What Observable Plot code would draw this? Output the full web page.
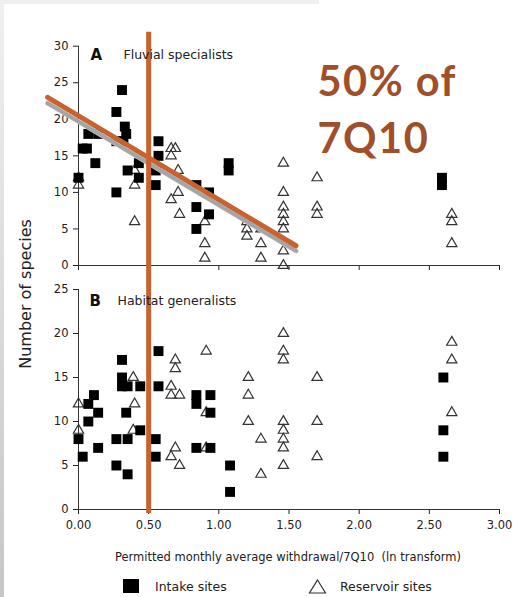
<!DOCTYPE html>
<html><head><meta charset="utf-8">
<script src="https://cdn.jsdelivr.net/npm/d3@7"></script>
<script src="https://cdn.jsdelivr.net/npm/@observablehq/plot@0.6"></script>
<style>
html,body{margin:0;padding:0;background:#fff;}
#wrap{position:relative;width:522px;height:597px;overflow:hidden;font-family:"DejaVu Sans",sans-serif;color:#222;}
#wrap svg{position:absolute;left:0;}
.topbar{position:absolute;left:0;top:0;width:319px;height:4px;background:#efefef;}
.leftbar{position:absolute;left:0;top:0;width:4px;height:597px;background:linear-gradient(#f0f0f0,#c6c6c6);}
.ylab{position:absolute;left:25px;top:294px;transform:translate(-50%,-50%) rotate(-90deg);font-size:16px;white-space:nowrap;}
.xlab{position:absolute;left:288px;top:557px;transform:translate(-50%,-50%);font-size:11.5px;white-space:pre;}
.leg{position:absolute;top:586px;transform:translateY(-50%);font-size:12.5px;white-space:nowrap;}
.annot text{letter-spacing:1.5px;}
</style></head><body><div id="wrap"></div>
<script>
// ---- data ----
const xTicks = [0, 0.5, 1, 1.5, 2, 2.5, 3];
const xTickLabels = ["0.00", "0.50", "1.00", "1.50", "2.00", "2.50", "3.00"];
const yTicksA = [0, 5, 10, 15, 20, 25, 30];
const yTicksB = [0, 5, 10, 15, 20, 25];

// Panel A – Fluvial specialists
const intakeAx = [0.00, 0.03, 0.06, 0.07, 0.14, 0.12, 0.27, 0.27, 0.31, 0.33, 0.34, 0.27, 0.32, 0.35, 0.43, 0.43, 0.55, 0.55, 0.57, 0.57, 0.84, 0.84, 0.84, 0.93, 0.93, 1.07, 1.07, 2.59, 2.59];
const intakeAy = [12, 16, 16, 18, 18, 14, 10, 21, 24, 19, 18, 17, 17, 13, 14, 12, 11, 13, 17, 15, 11, 8, 5, 10, 7, 14, 13, 12, 11];
const reservAx = [0.00, 0.00, 0.40, 0.40, 0.40, 0.66, 0.66, 0.69, 0.71, 0.71, 0.66, 0.72, 0.90, 0.90, 0.90, 1.20, 1.20, 1.20, 1.30, 1.30, 1.30, 1.46, 1.46, 1.46, 1.46, 1.46, 1.46, 1.46, 1.46, 1.70, 1.70, 1.70, 2.66, 2.66, 2.66];
const reservAy = [12, 11, 13, 11, 6, 16, 15, 16, 13, 10, 9, 7, 6, 3, 1, 6, 5, 4, 5, 3, 1, 14, 10, 8, 7, 6, 5, 2, 0, 12, 8, 7, 7, 6, 3];

// Panel B – Habitat generalists
const intakeBx = [0.00, 0.03, 0.07, 0.07, 0.11, 0.14, 0.14, 0.27, 0.27, 0.31, 0.31, 0.31, 0.35, 0.34, 0.35, 0.35, 0.44, 0.44, 0.55, 0.55, 0.57, 0.57, 0.84, 0.84, 0.84, 0.94, 0.94, 0.94, 1.08, 1.08, 2.60, 2.60, 2.60];
const intakeBy = [8, 6, 12, 10, 13, 11, 7, 8, 5, 17, 15, 14, 14, 11, 8, 4, 14, 9, 8, 6, 18, 14, 13, 12, 7, 13, 11, 7, 5, 2, 15, 9, 6];
const reservBx = [0.00, 0.00, 0.39, 0.40, 0.39, 0.66, 0.66, 0.69, 0.69, 0.72, 0.66, 0.69, 0.72, 0.91, 0.91, 0.91, 1.21, 1.21, 1.21, 1.30, 1.30, 1.46, 1.46, 1.46, 1.46, 1.46, 1.46, 1.46, 1.46, 1.70, 1.70, 1.70, 2.66, 2.66, 2.66];
const reservBy = [12, 9, 15, 12, 9, 14, 13, 17, 16, 13, 6, 7, 5, 18, 11, 7, 15, 13, 10, 8, 4, 20, 18, 17, 10, 9, 8, 7, 5, 15, 10, 6, 19, 17, 11];

// regression lines in panel A (end points)
const fitX = [-0.22, 1.55];
const fitGrayY = [22.2, 2.0];
const fitOrangeY = [23.0, 2.7];
const thresholdX = [0.5];

const panelTitles = ["Fluvial specialists", "Habitat generalists"];
const panelLetters = ["A", "B"];
const annotation = "50% of\n7Q10";
const xTitle = "Permitted monthly average withdrawal/7Q10  (ln transform)";
const yTitle = "Number of species";
const legendLabels = ["Intake sites", "Reservoir sites"];

// ---- build ----
const pts = (xs, ys) => xs.map((x, i) => ({x, y: ys[i]}));
const fit = (ys) => fitX.map((x, i) => ({x, y: ys[i]}));
const ORANGE = "#c8622e";
const INK = "#333";
const font = "DejaVu Sans";

function grayBand(data) {
  return [
    Plot.line(data, {x: "x", y: "y", stroke: "#d2d2d2", strokeWidth: 5}),
    Plot.line(data, {x: "x", y: "y", stroke: "#808080", strokeWidth: 4, strokeDasharray: "1 2", strokeOpacity: 0.55})
  ];
}

const plotA = Plot.plot({
  width: 522, height: 277,
  marginLeft: 78, marginRight: 23, marginTop: 45.7, marginBottom: 12,
  style: {fontFamily: font, fontSize: "11.5px", color: "#222", background: "transparent", overflow: "visible"},
  x: {domain: [0, 3], ticks: xTicks, tickSize: 5, tickFormat: () => "", label: null, axis: "bottom"},
  y: {domain: [0, 30], ticks: yTicksA, tickSize: 5, tickPadding: 5, label: null},
  marks: [
    Plot.ruleY([0], {stroke: INK}),
    Plot.ruleX([0], {stroke: INK}),
    Plot.dot(pts(reservAx, reservAy), {x: "x", y: "y", symbol: "triangle", r: 3.8, stroke: INK, strokeWidth: 1.2, fill: "none"}),
    Plot.dot(pts(intakeAx, intakeAy), {x: "x", y: "y", symbol: "square", r: 5.6, fill: "#000"}),
    ...grayBand(fit(fitGrayY)),
    Plot.line(fit(fitOrangeY), {x: "x", y: "y", stroke: ORANGE, strokeWidth: 5}),
    Plot.ruleX(thresholdX, {stroke: ORANGE, strokeWidth: 5, insetTop: -14, insetBottom: -12}),
    Plot.text([panelLetters[0]], {frameAnchor: "top-left", dx: 12, dy: 8.5, text: d => d, textAnchor: "start", lineAnchor: "middle", fontWeight: "bold", fontSize: 15, fill: "#111"}),
    Plot.text([panelTitles[0]], {frameAnchor: "top-left", dx: 45, dy: 8.5, text: d => d, textAnchor: "start", lineAnchor: "middle", fontSize: 12.5, fill: "#222"}),
    Plot.text([annotation], {className: "annot", frameAnchor: "top-left", dx: 239, dy: 9.5, text: d => d, textAnchor: "start", lineAnchor: "top", lineHeight: 1.37, fontFamily: "Lato", fontWeight: "bold", fontSize: 41.5, fill: "#a14f29"})
  ]
});

const plotB = Plot.plot({
  width: 522, height: 265,
  marginLeft: 78, marginRight: 23, marginTop: 12, marginBottom: 33,
  style: {fontFamily: font, fontSize: "11.5px", color: "#222", background: "transparent", overflow: "visible"},
  x: {domain: [0, 3], ticks: xTicks, tickSize: 5, tickPadding: 6, tickFormat: d => xTickLabels[xTicks.indexOf(d)], label: null, axis: "bottom"},
  y: {domain: [0, 25], ticks: yTicksB, tickSize: 5, tickPadding: 5, label: null},
  marks: [
    Plot.ruleY([0], {stroke: INK}),
    Plot.ruleX([0], {stroke: INK}),
    Plot.dot(pts(reservBx, reservBy), {x: "x", y: "y", symbol: "triangle", r: 3.8, stroke: INK, strokeWidth: 1.2, fill: "none"}),
    Plot.dot(pts(intakeBx, intakeBy), {x: "x", y: "y", symbol: "square", r: 5.6, fill: "#000"}),
    Plot.ruleX(thresholdX, {stroke: ORANGE, strokeWidth: 5, insetTop: -12, insetBottom: -4}),
    Plot.text([panelLetters[1]], {frameAnchor: "top-left", dx: 11, dy: 11.7, text: d => d, textAnchor: "start", lineAnchor: "middle", fontWeight: "bold", fontSize: 15, fill: "#111"}),
    Plot.text([panelTitles[1]], {frameAnchor: "top-left", dx: 39, dy: 11.7, text: d => d, textAnchor: "start", lineAnchor: "middle", fontSize: 12.5, fill: "#222"})
  ]
});

const wrap = document.getElementById("wrap");
wrap.insertAdjacentHTML("beforeend", '<div class="topbar"></div><div class="leftbar"></div>');
plotA.style.top = "0px";
plotB.style.top = "277px";
wrap.appendChild(plotA);
wrap.appendChild(plotB);

const yl = document.createElement("div"); yl.className = "ylab"; yl.textContent = yTitle; wrap.appendChild(yl);
const xl = document.createElement("div"); xl.className = "xlab"; xl.textContent = xTitle; wrap.appendChild(xl);

wrap.insertAdjacentHTML("beforeend",
  '<svg width="18" height="16" style="position:absolute;left:122px;top:578px"><rect x="1" y="1" width="16" height="14" fill="#000"/></svg>' +
  '<div class="leg" style="left:155px">' + legendLabels[0] + '</div>' +
  '<svg width="20" height="17" style="position:absolute;left:308px;top:578px"><path d="M9.5,2 L17.5,15 L1.5,15 Z" fill="none" stroke="#333" stroke-width="1.2"/></svg>' +
  '<div class="leg" style="left:340px">' + legendLabels[1] + '</div>');
</script>
</body></html>
